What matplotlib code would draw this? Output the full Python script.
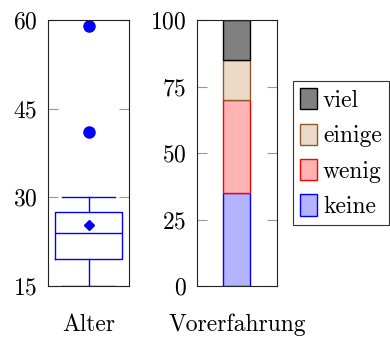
import matplotlib
matplotlib.use("Agg")
import matplotlib.pyplot as plt
from matplotlib.patches import Patch

plt.rcParams['font.family'] = ['cmr10', 'DejaVu Serif']
plt.rcParams['axes.formatter.use_mathtext'] = True
plt.rcParams['mathtext.fontset'] = 'cm'

# Data
alter_label = "Alter"
alter_stats = dict(med=24.0, q1=19.5, q3=27.5, whislo=15.0, whishi=30.0,
                   mean=25.3, fliers=[41.0, 59.0])
alter_ticks = [15, 30, 45, 60]

exp_label = "Vorerfahrung"
exp_categories = ["keine", "wenig", "einige", "viel"]
exp_values = [35, 35, 15, 15]
exp_ticks = [0, 25, 50, 75, 100]

fills = {"keine": "#b3b3ff", "wenig": "#ffb3b3", "einige": "#ecd9c6", "viel": "#808080"}
edges = {"keine": "#0000ff", "wenig": "#ff0000", "einige": "#8c5a2b", "viel": "#000000"}

FS = 17
W, H = 390, 338
fig = plt.figure(figsize=(W / 100, H / 100), dpi=100)

def style(ax):
    for s in ax.spines.values():
        s.set_linewidth(0.8)
        s.set_color("#222222")
    ax.tick_params(axis='y', direction='in', length=7.5, width=0.8, color='#999999',
                   left=True, right=True, labelsize=FS, pad=7.5)
    ax.tick_params(axis='x', length=0, labelsize=FS, pad=20)

ax1 = fig.add_axes([48 / W, 1 - 286 / H, 81 / W, 266 / H])
stats = dict(alter_stats, label=alter_label)
ax1.bxp([stats], positions=[1], widths=1.66, showmeans=True, capwidths=1.33,
        boxprops=dict(color='blue', linewidth=1.0),
        whiskerprops=dict(color='blue', linewidth=1.0),
        capprops=dict(color='blue', linewidth=1.0),
        medianprops=dict(color='blue', linewidth=1.0),
        meanprops=dict(marker='D', markerfacecolor='blue', markeredgecolor='blue', markersize=5.5),
        flierprops=dict(marker='o', markerfacecolor='blue', markeredgecolor='blue', markersize=8))
ax1.set_xlim(0, 2)
ax1.set_ylim(15, 60)
ax1.set_yticks(alter_ticks)
ax1.set_xticks([1])
ax1.set_xticklabels([alter_label])
style(ax1)

ax2 = fig.add_axes([197 / W, 1 - 286 / H, 80 / W, 266 / H])
bottom = 0
handles = []
for cat, val in zip(exp_categories, exp_values):
    ax2.bar([1], [val], bottom=bottom, width=0.675, color=fills[cat],
            edgecolor=edges[cat], linewidth=1.0)
    bottom += val
    handles.append(Patch(facecolor=fills[cat], edgecolor=edges[cat], linewidth=1.0, label=cat))
ax2.set_xlim(0, 2)
ax2.set_ylim(0, 100)
ax2.set_yticks(exp_ticks)
ax2.set_xticks([1])
ax2.set_xticklabels([exp_label])
style(ax2)

leg = fig.legend(handles=handles[::-1], loc='upper left',
                 bbox_to_anchor=(293 / W, 1 - 81 / H), fontsize=FS,
                 frameon=True, fancybox=False, edgecolor='black',
                 handlelength=0.72, handleheight=1.0, handletextpad=0.25,
                 labelspacing=0.5, borderpad=0.3, borderaxespad=0)
leg.get_frame().set_linewidth(0.8)

fig.savefig("out.png", dpi=100)
